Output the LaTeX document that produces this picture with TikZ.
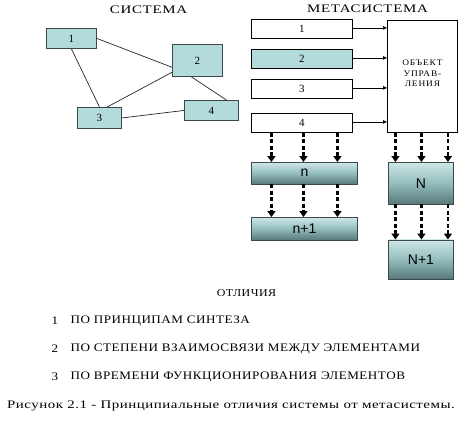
\documentclass[tikz,border=0pt]{standalone}
\usepackage{fontspec}
\setmainfont{Liberation Serif}
\setsansfont{Liberation Sans}
\newfontfamily\headfont[FakeStretch=1.3, LetterSpace=6]{Liberation Serif}
\newfontfamily\listfont[FakeStretch=1.14, LetterSpace=4.5]{Liberation Serif}
\newfontfamily\capfont[FakeStretch=1.3, LetterSpace=4.5]{Liberation Serif}
\newfontfamily\objfont[FakeStretch=1.1, LetterSpace=10]{Liberation Serif}
\usetikzlibrary{arrows.meta,positioning}

\definecolor{tealfill}{HTML}{B3DBDB}
\definecolor{shadetop}{HTML}{CFE7E7}
\definecolor{shademid}{HTML}{93BCBC}
\definecolor{shadebot}{HTML}{587979}
\definecolor{edgegray}{HTML}{3A4A4A}

\tikzset{
  sysbox/.style={draw=edgegray, line width=0.9pt, fill=tealfill, inner sep=0pt,
    anchor=north west, font=\fontsize{11}{12}\selectfont},
  rowbox/.style={draw=black, line width=0.8pt, fill=white, inner sep=0pt,
    anchor=north west, minimum width=101, minimum height=19, font=\fontsize{11}{12}\selectfont},
  levelbox/.style={draw=edgegray, line width=0.9pt, inner sep=0pt, anchor=north west,
    top color=shadetop, bottom color=shadebot, middle color=shademid,
    font=\sffamily\fontsize{14}{16}\selectfont},
  feed/.style={line width=0.6pt, -{Triangle[length=4pt,width=3.5pt]}},
  flow/.style={line width=2.6pt, dash pattern=on 4pt off 2.5pt,
    -{Triangle[length=6pt,width=8pt]}},
  link/.style={line width=0.7pt, draw=black!85},
  headtext/.style={font=\headfont\fontsize{11.5}{14}\selectfont},
  listtext/.style={font=\listfont\fontsize{11.5}{13}\selectfont, anchor=west}
}

\begin{document}
\begin{tikzpicture}[x=1pt,y=-1pt]
\useasboundingbox (0,0) rectangle (461,421);

% Titles
\node[headtext] (systitle) at (148.5,10) {СИСТЕМА};
\node[headtext] (metatitle) at (367.5,9) {МЕТАСИСТЕМА};

% System: four linked elements
\node[sysbox, minimum width=50, minimum height=20] (s1) at (46,28) {1};
\node[sysbox, minimum width=50, minimum height=32] (s2) at (172,44) {2};
\node[sysbox, minimum width=44, minimum height=21] (s3) at (77,107) {3};
\node[sysbox, minimum width=54, minimum height=20] (s4) at (184,100) {4};

\draw[link] (s1.east) -- (s2.195);
\draw[link] (s1.south) -- (s3.north);
\draw[link] (s2.205) -- (s3.55);
\draw[link] (s2.250) -- (s4.35);
\draw[link] (s3.east) -- (s4.west);

% Metasystem: rows feeding the control object
\node[rowbox] (m1) at (251,19) {1};
\node[rowbox, fill=tealfill] (m2) at (251,49) {2};
\node[rowbox] (m3) at (251,79) {3};
\node[rowbox] (m4) at (251,113) {4};

\node[draw=black, line width=0.8pt, fill=white, anchor=north west,
      minimum width=70, minimum height=112] (obj) at (387,20) {};
\node[font=\objfont\fontsize{8.5}{10.5}\selectfont, align=center]
  (objtxt) at ([yshift=3]obj.center) {ОБЪЕКТ\\УПРАВ-\\ЛЕНИЯ};

\foreach \row in {m1,m2,m3,m4}
  \draw[feed] ([yshift=1]\row.east) -- ([yshift=1]\row.east -| obj.west);

% Levels
\node[levelbox, minimum width=106, minimum height=21.5] (n) at (251,162) {n};
\node[levelbox, minimum width=106, minimum height=22.5] (n1) at (251,217) {n+1};
\node[levelbox, minimum width=65, minimum height=41.5] (N) at (388,162) {N};
\node[levelbox, minimum width=65, minimum height=39] (N1) at (388,239.5) {N+1};

\foreach \dx in {-33,-1,33} {
  \draw[flow] ([xshift=\dx]n.north |- m4.south) -- ([xshift=\dx]n.north);
  \draw[flow] ([xshift=\dx]n.south) -- ([xshift=\dx]n1.north);
}
\foreach \dx in {-25.5,0.5,27} {
  \draw[flow] ([xshift=\dx]N.north |- obj.south) -- ([xshift=\dx]N.north);
  \draw[flow] ([xshift=\dx]N.south) -- ([xshift=\dx]N1.north);
}

% Differences
\node[font=\listfont\fontsize{10.5}{12}\selectfont] (difftitle) at (246.5,293) {ОТЛИЧИЯ};
\node[listtext] (d1num) at (48,321) {1};
\node[listtext] (d1) at (67,321) {ПО ПРИНЦИПАМ СИНТЕЗА};
\node[listtext] (d2num) at (48,348.5) {2};
\node[listtext] (d2) at (67,348.5) {ПО СТЕПЕНИ ВЗАИМОСВЯЗИ МЕЖДУ ЭЛЕМЕНТАМИ};
\node[listtext] (d3num) at (48,377) {3};
\node[listtext] (d3) at (67,377) {ПО ВРЕМЕНИ ФУНКЦИОНИРОВАНИЯ ЭЛЕМЕНТОВ};

% Caption
\node[font=\capfont\fontsize{11.5}{13}\selectfont] (caption) at (231,406)
  {Рисунок 2.1 - Принципиальные отличия системы от метасистемы.};

\end{tikzpicture}
\end{document}
